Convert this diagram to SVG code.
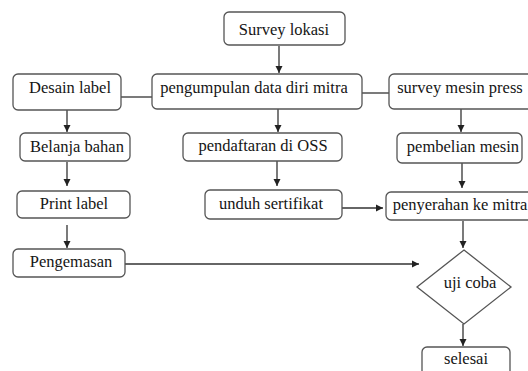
<svg xmlns="http://www.w3.org/2000/svg" width="528" height="371" viewBox="0 0 528 371">
<style>
.box{fill:#fff;stroke:#555;stroke-width:1.3}
.t{font-family:'Liberation Serif','Times New Roman',serif;font-size:16.5px;fill:#151515;text-anchor:middle}
.c{stroke:#333;stroke-width:1.3;fill:none}
.a{marker-end:url(#ar)}
</style>
<defs>
<marker id="ar" markerWidth="8" markerHeight="8" refX="7" refY="4" orient="auto" markerUnits="userSpaceOnUse">
<path d="M0,0.5 L7,4 L0,7.5 Z" fill="#222"/>
</marker>
</defs>
<rect width="528" height="371" fill="#fff"/>
<g id="connectors">
<line class="c a" x1="279" y1="46" x2="279" y2="73"/>
<line class="c" x1="121" y1="97" x2="152" y2="97"/>
<line class="c" x1="362" y1="93" x2="389" y2="93"/>
<line class="c a" x1="67" y1="110" x2="67" y2="132"/>
<line class="c a" x1="278" y1="109" x2="278" y2="132"/>
<line class="c a" x1="461" y1="109" x2="461" y2="132"/>
<line class="c a" x1="67" y1="162" x2="67" y2="186"/>
<line class="c a" x1="277" y1="161" x2="277" y2="186"/>
<line class="c a" x1="462" y1="163" x2="462" y2="188"/>
<line class="c a" x1="67" y1="225" x2="67" y2="248"/>
<line class="c a" x1="342" y1="208" x2="383" y2="208"/>
<line class="c a" x1="463" y1="221" x2="463" y2="248"/>
<line class="c a" x1="125" y1="264" x2="419" y2="264"/>
<line class="c a" x1="463" y1="324" x2="463" y2="346"/>
</g>
<g id="survey-lokasi"><rect class="box" x="224" y="12" width="121" height="33" rx="5"/><text class="t" x="284" y="35">Survey lokasi</text></g>
<g id="desain-label"><rect class="box" x="13" y="74" width="108" height="36" rx="5"/><text class="t" x="70" y="93">Desain label</text></g>
<g id="pengumpulan"><rect class="box" x="152" y="74" width="210" height="35" rx="5"/><text class="t" x="254" y="93">pengumpulan data diri mitra</text></g>
<g id="survey-mesin"><rect class="box" x="389" y="74" width="150" height="35" rx="5"/><text class="t" x="460" y="93">survey mesin press</text></g>
<g id="belanja-bahan"><rect class="box" x="20" y="133" width="110" height="28" rx="5"/><text class="t" x="77" y="152">Belanja bahan</text></g>
<g id="pendaftaran"><rect class="box" x="183" y="133" width="159" height="28" rx="5"/><text class="t" x="263" y="151">pendaftaran di OSS</text></g>
<g id="pembelian-mesin"><rect class="box" x="397" y="133" width="125" height="30" rx="5"/><text class="t" x="463" y="152">pembelian mesin</text></g>
<g id="print-label"><rect class="box" x="17" y="191" width="113" height="27" rx="5"/><text class="t" x="74" y="209">Print label</text></g>
<g id="unduh-sertifikat"><rect class="box" x="205" y="190" width="137" height="29" rx="5"/><text class="t" x="271" y="209">unduh sertifikat</text></g>
<g id="penyerahan"><rect class="box" x="386" y="192" width="150" height="28" rx="5"/><text class="t" x="460" y="210">penyerahan ke mitra</text></g>
<g id="pengemasan"><rect class="box" x="13" y="249" width="112" height="28" rx="5"/><text class="t" x="71" y="267">Pengemasan</text></g>
<g id="uji-coba"><polygon class="box" points="464,250 511,287 464,324 417,287"/><text class="t" x="470" y="288">uji coba</text></g>
<g id="selesai"><rect class="box" x="422" y="347" width="88" height="36" rx="5"/><text class="t" x="466" y="364">selesai</text></g>
</svg>
